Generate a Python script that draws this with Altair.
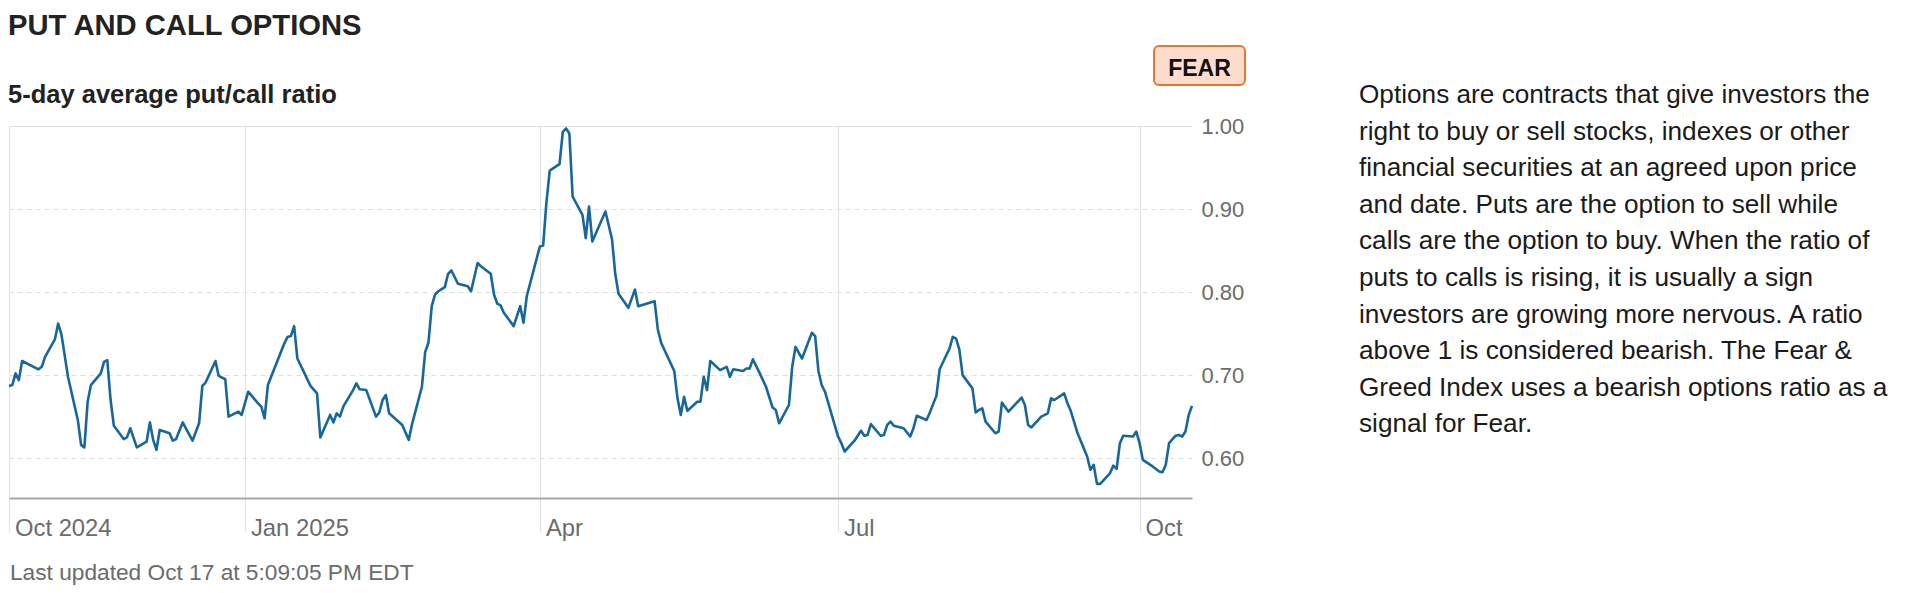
import altair as alt
import pandas as pd

# ---------------- data ----------------
dates = [
    "2024-10-21", "2024-10-22", "2024-10-23", "2024-10-24", "2024-10-25", "2024-10-30", "2024-10-31",
    "2024-11-01", "2024-11-04", "2024-11-05", "2024-11-06", "2024-11-08", "2024-11-11", "2024-11-12",
    "2024-11-13", "2024-11-14", "2024-11-15", "2024-11-18", "2024-11-19", "2024-11-20", "2024-11-21",
    "2024-11-22", "2024-11-25", "2024-11-26", "2024-11-27", "2024-11-29", "2024-12-02", "2024-12-03",
    "2024-12-04", "2024-12-05", "2024-12-06", "2024-12-09", "2024-12-10", "2024-12-11", "2024-12-13",
    "2024-12-16", "2024-12-18", "2024-12-19", "2024-12-20", "2024-12-23", "2024-12-24", "2024-12-26",
    "2024-12-27", "2024-12-30", "2024-12-31", "2025-01-02", "2025-01-05", "2025-01-06", "2025-01-07",
    "2025-01-08", "2025-01-13", "2025-01-14", "2025-01-15", "2025-01-16", "2025-01-17", "2025-01-21",
    "2025-01-23", "2025-01-24", "2025-01-27", "2025-01-28", "2025-01-29", "2025-01-30", "2025-01-31",
    "2025-02-03", "2025-02-04", "2025-02-05", "2025-02-07", "2025-02-10", "2025-02-11", "2025-02-12",
    "2025-02-13", "2025-02-14", "2025-02-18", "2025-02-20", "2025-02-21", "2025-02-24", "2025-02-25",
    "2025-02-26", "2025-02-27", "2025-02-28", "2025-03-01", "2025-03-03", "2025-03-04", "2025-03-05",
    "2025-03-07", "2025-03-10", "2025-03-11", "2025-03-13", "2025-03-14", "2025-03-17", "2025-03-18",
    "2025-03-19", "2025-03-20", "2025-03-21", "2025-03-24", "2025-03-26", "2025-03-27", "2025-03-28",
    "2025-04-01", "2025-04-02", "2025-04-03", "2025-04-04", "2025-04-05", "2025-04-07", "2025-04-08",
    "2025-04-09", "2025-04-10", "2025-04-11", "2025-04-14", "2025-04-15", "2025-04-16", "2025-04-17",
    "2025-04-21", "2025-04-23", "2025-04-24", "2025-04-25", "2025-04-28", "2025-04-30", "2025-05-01",
    "2025-05-06", "2025-05-07", "2025-05-08", "2025-05-12", "2025-05-13", "2025-05-14", "2025-05-15",
    "2025-05-16", "2025-05-19", "2025-05-20", "2025-05-21", "2025-05-22", "2025-05-23", "2025-05-26",
    "2025-05-28", "2025-05-29", "2025-05-30", "2025-06-02", "2025-06-03", "2025-06-04", "2025-06-05",
    "2025-06-07", "2025-06-09", "2025-06-11", "2025-06-12", "2025-06-13", "2025-06-16", "2025-06-17",
    "2025-06-18", "2025-06-20", "2025-06-23", "2025-06-24", "2025-06-25", "2025-06-26", "2025-06-27",
    "2025-07-01", "2025-07-02", "2025-07-03", "2025-07-06", "2025-07-08", "2025-07-09", "2025-07-10",
    "2025-07-11", "2025-07-14", "2025-07-15", "2025-07-16", "2025-07-17", "2025-07-18", "2025-07-21",
    "2025-07-23", "2025-07-24", "2025-07-25", "2025-07-28", "2025-07-29", "2025-07-31", "2025-08-01",
    "2025-08-04", "2025-08-05", "2025-08-06", "2025-08-07", "2025-08-08", "2025-08-11", "2025-08-12",
    "2025-08-13", "2025-08-14", "2025-08-15", "2025-08-18", "2025-08-19", "2025-08-20", "2025-08-22",
    "2025-08-26", "2025-08-27", "2025-08-28", "2025-08-29", "2025-09-01", "2025-09-03", "2025-09-04",
    "2025-09-05", "2025-09-08", "2025-09-09", "2025-09-10", "2025-09-12", "2025-09-15", "2025-09-16",
    "2025-09-17", "2025-09-18", "2025-09-19", "2025-09-22", "2025-09-23", "2025-09-24", "2025-09-25",
    "2025-09-26", "2025-09-29", "2025-09-30", "2025-10-01", "2025-10-02", "2025-10-05", "2025-10-07",
    "2025-10-08", "2025-10-09", "2025-10-10", "2025-10-12", "2025-10-13", "2025-10-14", "2025-10-15",
    "2025-10-16", "2025-10-17",
]

put_call_ratio = [
    0.687, 0.688, 0.702, 0.694, 0.717, 0.707, 0.710,
    0.722, 0.743, 0.762, 0.749, 0.698, 0.646, 0.616,
    0.613, 0.668, 0.688, 0.702, 0.716, 0.718, 0.670,
    0.639, 0.623, 0.625, 0.636, 0.613, 0.620, 0.643,
    0.622, 0.610, 0.634, 0.630, 0.621, 0.623, 0.643,
    0.621, 0.642, 0.687, 0.691, 0.717, 0.699, 0.695,
    0.650, 0.656, 0.652, 0.680, 0.666, 0.662, 0.648,
    0.688, 0.738, 0.746, 0.747, 0.759, 0.720, 0.687,
    0.678, 0.625, 0.652, 0.643, 0.654, 0.650, 0.662,
    0.682, 0.690, 0.683, 0.682, 0.650, 0.655, 0.670,
    0.676, 0.654, 0.640, 0.622, 0.641, 0.686, 0.728,
    0.739, 0.783, 0.797, 0.801, 0.806, 0.822, 0.826,
    0.810, 0.807, 0.801, 0.835, 0.831, 0.822, 0.797,
    0.786, 0.784, 0.775, 0.759, 0.783, 0.763, 0.795,
    0.855, 0.856, 0.908, 0.946, 0.949, 0.954, 0.993,
    0.997, 0.991, 0.915, 0.893, 0.865, 0.903, 0.861,
    0.897, 0.864, 0.822, 0.798, 0.781, 0.803, 0.783,
    0.789, 0.755, 0.739, 0.705, 0.672, 0.652, 0.674,
    0.657, 0.668, 0.668, 0.698, 0.682, 0.717, 0.706,
    0.710, 0.698, 0.707, 0.705, 0.708, 0.708, 0.719,
    0.703, 0.686, 0.661, 0.658, 0.642, 0.664, 0.710,
    0.734, 0.720, 0.751, 0.747, 0.705, 0.688, 0.680,
    0.626, 0.618, 0.608, 0.621, 0.633, 0.627, 0.628,
    0.641, 0.627, 0.628, 0.640, 0.644, 0.639, 0.636,
    0.626, 0.636, 0.651, 0.646, 0.655, 0.675, 0.707,
    0.732, 0.746, 0.744, 0.731, 0.700, 0.684, 0.655,
    0.658, 0.660, 0.644, 0.630, 0.632, 0.667, 0.656,
    0.673, 0.664, 0.640, 0.637, 0.650, 0.654, 0.672,
    0.670, 0.678, 0.666, 0.657, 0.631, 0.602, 0.586,
    0.592, 0.569, 0.569, 0.582, 0.591, 0.587, 0.618,
    0.627, 0.626, 0.632, 0.618, 0.598, 0.590, 0.584,
    0.583, 0.592, 0.618, 0.627, 0.628, 0.626, 0.632,
    0.652, 0.663,
]

x_domain = ["2024-10-21", "2025-10-17"]
x_tick_dates = ["2024-10-21", "2025-01-01", "2025-04-01", "2025-07-01", "2025-10-01"]
x_tick_labels = ["Oct 2024", "Jan 2025", "Apr", "Jul", "Oct"]
y_domain = [0.552, 1.0]
y_ticks = [0.60, 0.70, 0.80, 0.90, 1.00]

title_text = "PUT AND CALL OPTIONS"
subtitle_text = "5-day average put/call ratio"
badge_text = "FEAR"
footer_text = "Last updated Oct 17 at 5:09:05 PM EDT"
note_lines = [
    "Options are contracts that give investors the",
    "right to buy or sell stocks, indexes or other",
    "financial securities at an agreed upon price",
    "and date. Puts are the option to sell while",
    "calls are the option to buy. When the ratio of",
    "puts to calls is rising, it is usually a sign",
    "investors are growing more nervous. A ratio",
    "above 1 is considered bearish. The Fear &",
    "Greed Index uses a bearish options ratio as a",
    "signal for Fear.",
]

# ---------------- chart ----------------
FONT = "Liberation Sans"
W, H = 1183, 372
LABEL_GRAY = "#6b6b6b"


def ms(d):
    return int(pd.Timestamp(d, tz="UTC").value // 10**6)


label_expr = " : ".join(
    f"utcFormat(datum.value, '%Y-%m-%d') == '{d}' ? '{l}'" for d, l in zip(x_tick_dates, x_tick_labels)
) + " : ''"

df = pd.DataFrame({"date": dates, "ratio": put_call_ratio})

line = alt.Chart(df).mark_line(color="#17679b", strokeWidth=2.6, strokeJoin="round").encode(
    x=alt.X(
        "date:T",
        title=None,
        scale=alt.Scale(type="utc", domain=[ms(d) for d in x_domain], nice=False),
        axis=alt.Axis(
            values=[ms(d) for d in x_tick_dates],
            labelExpr=label_expr,
            grid=True,
            gridColor="#e4e4e4",
            gridWidth=1.2,
            ticks=True,
            tickSize=34,
            tickColor="#e4e4e4",
            tickWidth=1.2,
            domain=True,
            domainColor="#a8a8a8",
            domainWidth=2,
            labelAlign="left",
            labelBaseline="alphabetic",
            labelOffset=5.5,
            labelPadding=3,
            labelFont=FONT,
            labelFontSize=23.8,
            labelColor=LABEL_GRAY,
            labelFlush=False,
            labelOverlap=False,
        ),
    ),
    y=alt.Y(
        "ratio:Q",
        title=None,
        scale=alt.Scale(domain=y_domain, nice=False, zero=False),
        axis=alt.Axis(
            orient="right",
            values=y_ticks,
            format=".2f",
            grid=True,
            gridColor="#dedede",
            gridWidth=1.2,
            gridDash={"condition": {"test": "datum.value >= 0.999", "value": []}, "value": [5, 4]},
            ticks=False,
            domain=False,
            labelPadding=9,
            labelFont=FONT,
            labelFontSize=22,
            labelColor=LABEL_GRAY,
            labelBaseline="middle",
        ),
    ),
)

one = pd.DataFrame({"t": [0]})

title = alt.Chart(pd.DataFrame({"t": [title_text]})).mark_text(
    align="left", baseline="alphabetic", font=FONT, fontSize=29.2, fontWeight="bold", color="#222222"
).encode(x=alt.value(-1), y=alt.value(-91.5), text="t:N")

subtitle = alt.Chart(pd.DataFrame({"t": [subtitle_text]})).mark_text(
    align="left", baseline="alphabetic", font=FONT, fontSize=25.5, fontWeight="bold", color="#222222"
).encode(x=alt.value(-1), y=alt.value(-22.7), text="t:N")

badge_box = alt.Chart(one).mark_rect(
    fill="#fddccd", stroke="#e07a30", strokeWidth=2, cornerRadius=5
).encode(x=alt.value(1145), x2=alt.value(1236), y=alt.value(-80), y2=alt.value(-41))

badge = alt.Chart(pd.DataFrame({"t": [badge_text]})).mark_text(
    align="center", baseline="alphabetic", font=FONT, fontSize=23, fontWeight="bold", color="#111111"
).encode(x=alt.value(1190.5), y=alt.value(-50), text="t:N")

note = alt.Chart(pd.DataFrame({"t": ["\n".join(note_lines)]})).mark_text(
    align="left", baseline="alphabetic", font=FONT, fontSize=26.2, lineBreak="\n", lineHeight=36.6,
    color="#1a1a1a"
).encode(x=alt.value(1350), y=alt.value(-23), text="t:N")

footer = alt.Chart(pd.DataFrame({"t": [footer_text]})).mark_text(
    align="left", baseline="alphabetic", font=FONT, fontSize=22.7, color=LABEL_GRAY
).encode(x=alt.value(1), y=alt.value(454), text="t:N")

chart = alt.layer(line, title, subtitle, badge_box, badge, note, footer).properties(
    width=W,
    height=H,
    padding={"left": 1, "top": 118, "right": 720, "bottom": 92},
    autosize=alt.AutoSizeParams(type="none"),
    background="white",
).configure_view(stroke=None)

chart.save("out.html", embed_options={"renderer": "svg", "actions": False})
